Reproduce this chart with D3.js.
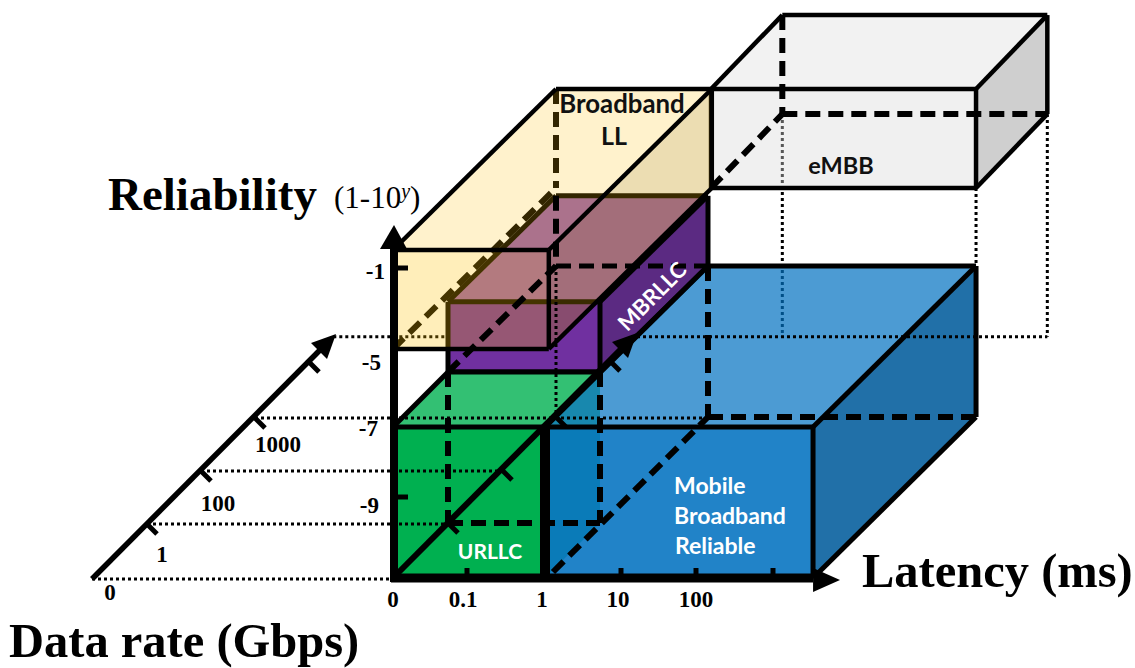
<!DOCTYPE html>
<html><head><meta charset="utf-8">
<script src="https://cdn.jsdelivr.net/npm/d3@7"></script>
<style>html,body{margin:0;padding:0;background:#fff}svg{display:block}</style>
</head><body><svg id="c" width="1135" height="668"></svg>
<script>
// ---- axis tick labels and domains ----
const latencyLabels = ["0","0.1","1","10","100"];
const latencySteps = [0,1,2,3,4,5];
const reliabilitySteps = [-10,-9,-7,-5,-1,0];
const reliabilityLabels = ["-1","-5","-7","-9"];
const rateLabels = ["0","1","100","1000"];
const rateSteps = [0,1,2,3,4];
// ---- boxes (latency step, reliability exponent, data-rate step) ----
const urllcLat=[0,2], urllcRel=[-10,-7], urllcRate=[0,1];
const mbrllcLat=[0,2], mbrllcRel=[-7,-5.2], mbrllcRate=[1,3];
const llLat=[0,2.05], llRel=[-5,0], llRate=[0,3];
const mbbLat=[2,5.52], mbbRel=[-10,-7], mbbRate=[0,3];
const embbLat=[2.04,5.52], embbRel=[-5,0], embbRate=[3,4.32];
const rateAxisEnd=4.5, guideEnd=4.45;

const svg=d3.select("#c");
const x=d3.scaleLinear().domain(latencySteps).range([393,467,545,621,696,773]);
const y=d3.scaleLinear().domain(reliabilitySteps).range([578,497,427,349,268,250]);
const dx=d3.scaleLinear().domain(rateSteps).range([0,55,109,163,217]);
const dy=d3.scaleLinear().domain(rateSteps).range([0,55,108,161,217]);
const P=(l,r,d)=>[x(l)+dx(d),y(r)-dy(d)];
const sideX=d=>92+dx(d), sideY=d=>579-dy(d);
const line=d3.line();
const serif='"Liberation Serif",serif', sans='Lato,"Open Sans",sans-serif';

function seg(a,b,w,dash,col){
  svg.append("path").attr("d",line([a,b])).attr("fill","none").attr("stroke",col||"#000")
    .attr("stroke-width",w).attr("stroke-dasharray",dash||null);
}
const dotted=(a,b)=>seg(a,b,3,"3,3");
function poly(pts,f,o){svg.append("path").attr("d",line(pts)+"Z").attr("fill",f).attr("fill-opacity",o==null?1:o);}
function corners(L,R,D){return{
  fbl:P(L[0],R[0],D[0]),fbr:P(L[1],R[0],D[0]),ftl:P(L[0],R[1],D[0]),ftr:P(L[1],R[1],D[0]),
  bbl:P(L[0],R[0],D[1]),bbr:P(L[1],R[0],D[1]),btl:P(L[0],R[1],D[1]),btr:P(L[1],R[1],D[1])};}
function faces(c,st){
  poly([c.ftl,c.btl,c.btr,c.ftr],st.top,st.topO);
  poly([c.fbr,c.ftr,c.btr,c.bbr],st.right,st.rightO);
  poly([c.fbl,c.fbr,c.ftr,c.ftl],st.front,st.frontO);
}
function edges(c,w){
  [[c.ftl,c.ftr],[c.ftr,c.fbr],[c.fbr,c.fbl],[c.fbl,c.ftl],[c.ftl,c.btl],[c.ftr,c.btr],[c.fbr,c.bbr],[c.btl,c.btr],[c.btr,c.bbr]]
    .forEach(e=>seg(e[0],e[1],w));
}
const DASH="15,8";

// eMBB corners first: the guides drop from them
const cE=corners(embbLat,embbRel,embbRate);

// dotted guides that sit behind the boxes
dotted(cE.bbl,[cE.bbl[0],sideY(guideEnd)]);
dotted(cE.fbr,P(embbLat[1],-7,3));
dotted(cE.bbr,[cE.bbr[0],sideY(guideEnd)]);
[0,1,2,3].forEach(d=>dotted([sideX(d),sideY(d)],[x(0),sideY(d)]));
dotted([sideX(guideEnd),sideY(guideEnd)],[x(0)+dx(1),sideY(guideEnd)]);

// eMBB
faces(cE,{top:"#f2f2f2",right:"#cfcfcf",front:"#d9d9d9",frontO:.4});
edges(cE,4.5);
seg(cE.btl,cE.bbl,6,DASH); seg(cE.bbl,cE.bbr,6,DASH); seg(cE.fbl,cE.bbl,6,DASH);

// MBRLLC beneath Broadband LL
const cM=corners(mbrllcLat,mbrllcRel,mbrllcRate);
faces(cM,{top:"#9760af",right:"#5b2a82",front:"#7030a0"});
[[cM.ftl,cM.btl],[cM.btl,cM.btr],[cM.ftl,cM.ftr],[cM.ftl,cM.fbl]].forEach(e=>seg(e[0],e[1],5));

// Broadband LL
const cL=corners(llLat,llRel,llRate);
seg(cL.fbl,cL.bbl,6,DASH); seg(cL.btl,cL.bbl,6,DASH);
poly([cL.ftl,cL.btl,cL.btr,cL.ftr],"#ffc000",.2);
poly([cL.fbr,cL.ftr,cL.btr,cL.bbr],"#bf9000",.3);
poly([cL.fbl,cL.fbr,cL.ftr,cL.ftl],"#ffc000",.27);
edges(cL,4.5);

// MBRLLC lines in front of Broadband LL
[[cM.ftr,cM.fbr],[cM.fbl,cM.fbr],[cM.fbr,cM.bbr],[cM.ftr,cM.btr],[cM.btr,cM.bbr]].forEach(e=>seg(e[0],e[1],5));

// URLLC
const cU=corners(urllcLat,urllcRel,urllcRate);
poly([cU.fbr,cU.ftr,cU.btr,cU.bbr],"#50be82");
poly([cU.ftl,cU.btl,cU.btr,cU.ftr],"#33c073");
poly([cU.fbl,cU.fbr,cU.ftr,cU.ftl],"#00b050");
// Mobile Broadband Reliable
const cB=corners(mbbLat,mbbRel,mbbRate);
poly([cB.ftl,cB.btl,cB.btr,cB.ftr],"#0070c0",.7);
poly([cB.fbl,cB.fbr,cB.ftr,cB.ftl],"#0070c0",.87);
poly([cB.fbr,cB.ftr,cB.btr,cB.bbr],"#005b9b",.87);
[[cU.ftl,cU.btl],[cU.btl,cU.btr],[cU.ftl,cU.ftr],[cU.ftr,cU.btr]].forEach(e=>seg(e[0],e[1],5));
edges(cB,5);

// dotted guides in front of the boxes
dotted([x(0),sideY(3)],[cB.bbl[0],sideY(3)]);
dotted(P(0,-7,3),P(0,-10,3));
dotted([cB.ftl[0]+92,sideY(guideEnd)],[cE.bbr[0],sideY(guideEnd)]);
dotted([x(0),sideY(2)],[x(0)+dx(2),sideY(2)]);
dotted([x(0),sideY(1)],[x(0)+dx(1),sideY(1)]);

// hidden edges
seg(cU.btl,cU.bbl,6,DASH); seg(cU.bbl,cU.bbr,6,DASH); seg(cU.btr,cU.bbr,6,DASH);
seg(cM.fbl,cM.bbl,6,DASH); seg(cM.bbl,cM.bbr,5,DASH); seg(cM.btl,cM.bbl,6,DASH);
seg(cB.fbl.map((v,i)=>i?v-6:v+8),cB.bbl,6,DASH); seg(cB.btl,cB.bbl,6,DASH); seg(cB.bbl,cB.bbr,6,DASH);

// main axes
seg([x(0)+1,y(-10)+4],[x(0)+1,240],8);
seg([x(0)-2,y(-10)],[x(5.52),y(-10)],9);
seg(P(2,-7,0),P(2,-10,0),10);
poly([[x(0)+1,225],[x(0)-13,249],[x(0)+14,249]],"#000");
poly([[x(5.52),568],[x(5.52),592],[840,580]],"#000");
[-1,-9].forEach(v=>seg([x(0)+3,y(v)],[x(0)+15,y(v)],5));
[1,3,4,5].forEach(v=>seg([x(v),y(-10)],[x(v),y(-10)-10],5));
latencyLabels.forEach((t,i)=>svg.append("text").text(t).attr("x",x(i)-[0,4,3,3,0][i]).attr("y",607)
  .attr("text-anchor","middle").attr("font-family",serif).attr("font-weight","bold").attr("font-size",23));
reliabilityLabels.forEach((t,i)=>svg.append("text").text(t)
  .attr("x",[385,381,378,379][i]).attr("y",[279,370,436,513][i])
  .attr("text-anchor","end").attr("font-family",serif).attr("font-weight","bold").attr("font-size",23));

// data-rate axis, on the side and along the floor
function rateAxis(x0,y0,w){
  const a=[x0,y0], b=[x0+dx(rateAxisEnd),y0-dy(rateAxisEnd)];
  seg(a,[b[0]-14,b[1]+14],w);
  poly([[b[0],b[1]],[b[0]-25,b[1]+9],[b[0]-9,b[1]+25]],"#000");
  [1,2,3,4].forEach(d=>seg([x0+dx(d),y0-dy(d)],[x0+dx(d)+10,y0-dy(d)+10],5));
}
rateAxis(sideX(0),sideY(0),5.5);
rateAxis(x(0),y(-10),6);
rateLabels.forEach((t,i)=>svg.append("text").text(t).attr("x",sideX(i)+[18,15,17,23][i]).attr("y",sideY(i)+[21,38,40,34][i])
  .attr("text-anchor","middle").attr("font-family",serif).attr("font-weight","bold").attr("font-size",23));

// titles
function title(t,xp,yp,fs){svg.append("text").text(t).attr("x",xp).attr("y",yp)
  .attr("font-family",serif).attr("font-weight","bold").attr("font-size",fs);}
title("Reliability",108,210,47);
title("Latency (ms)",862,587,48.5);
title("Data rate (Gbps)",9,657,48.5);
const rl=svg.append("text").attr("x",334).attr("y",208).attr("font-family",serif).attr("font-size",31);
rl.append("tspan").text("(1-10");
rl.append("tspan").text("y").attr("font-style","italic").attr("font-size",20).attr("dy",-10);
rl.append("tspan").text(")").attr("dy",10);

// box labels
function lab(t,xp,yp,col,fs,a){svg.append("text").text(t).attr("x",xp).attr("y",yp).attr("text-anchor",a||"middle")
  .attr("font-family",sans).attr("font-weight","bold").attr("font-size",fs).attr("fill",col);}
lab("Broadband",622,113,"#111",25.8);
lab("LL",614,145,"#111",25);
lab("eMBB",841,174,"#111",23.5);
lab("URLLC",490,559,"#fff",21);
lab("Mobile",674,494,"#fff",23,"start");
lab("Broadband",674,524,"#fff",23,"start");
lab("Reliable",675,554,"#fff",23,"start");
svg.append("text").text("MBRLLC").attr("transform","translate(652,296) rotate(-45)").attr("text-anchor","middle")
  .attr("dy",8).attr("font-family",sans).attr("font-weight","bold").attr("font-size",22).attr("fill","#fff");
</script></body></html>
